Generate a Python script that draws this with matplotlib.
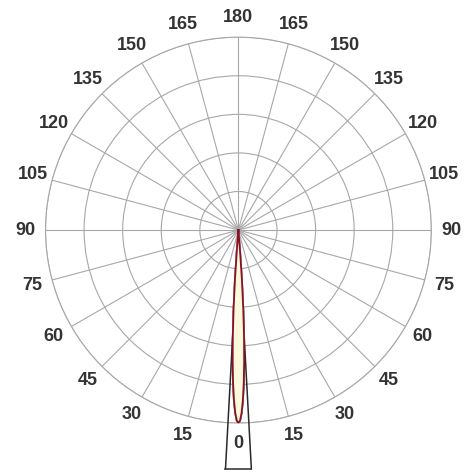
import numpy as np
import matplotlib.pyplot as plt

# relative intensity of the beam vs. angle from the axis (deg)
angles = [0, 0.5, 1, 1.5, 2, 2.5, 3, 3.5, 4, 4.5, 5, 6, 10, 180]
c0_intensity = [1.0, 0.987, 0.947, 0.882, 0.793, 0.683, 0.556, 0.413, 0.259, 0.098, 0.0, 0.0, 0.0, 0.0]
c90_intensity = [1.0, 0.988, 0.95, 0.888, 0.80, 0.693, 0.568, 0.428, 0.275, 0.115, 0.01, 0.0, 0.0, 0.0]
beam_half_angle = 3.1
grid_angles = list(range(0, 360, 15))
grid_labels = [str(min(a, 360 - a)) for a in grid_angles]
ring_values = [0.2, 0.4, 0.6, 0.8, 1.0]

txt_col = '#333333'
grid_col = '#a8a8a8'


def mirror(a, v):
    a = np.array(a, dtype=float)
    v = np.array(v, dtype=float)
    th = np.concatenate([-a[::-1], a[1:]])
    r = np.concatenate([v[::-1], v[1:]])
    return np.deg2rad(th), r


fig = plt.figure(figsize=(4.74, 4.74), dpi=100)
ax = fig.add_axes([0.096, 0.1076, 0.814, 0.814], projection='polar')
ax.set_theta_zero_location('S')
ax.set_theta_direction(1)
ax.set_ylim(0, 1.0)

ax.set_thetagrids(grid_angles, grid_labels, fontsize=13, fontweight='bold',
                  color=txt_col, family='Liberation Sans')
ax.tick_params(axis='x', pad=4)
ax.set_rgrids(ring_values, labels=[''] * len(ring_values))
ax.grid(True, color=grid_col, linewidth=0.8)
ax.spines['polar'].set_color(grid_col)
ax.spines['polar'].set_linewidth(0.8)

# beam angle lines, extended below the diagram
r_end = 1.24
hb = np.deg2rad(beam_half_angle)
ax.plot([-hb, 0, hb], [r_end, 0, r_end], color='#2a2a2a', linewidth=1.1,
        clip_on=False, zorder=3)
ax.plot([-hb, hb], [r_end, r_end], color='#2a2a2a', linewidth=1.1,
        clip_on=False, zorder=3)

th, r = mirror(angles, c90_intensity)
ax.plot(th, r, color='#2a2a7a', linewidth=1.3, zorder=4)

th, r = mirror(angles, c0_intensity)
ax.fill(th, r, color='#fdf9dc', zorder=5)
ax.plot(th, r, color='#8b1020', linewidth=1.3, zorder=6)

fig.savefig('out.png', dpi=100)
plt.close(fig)
